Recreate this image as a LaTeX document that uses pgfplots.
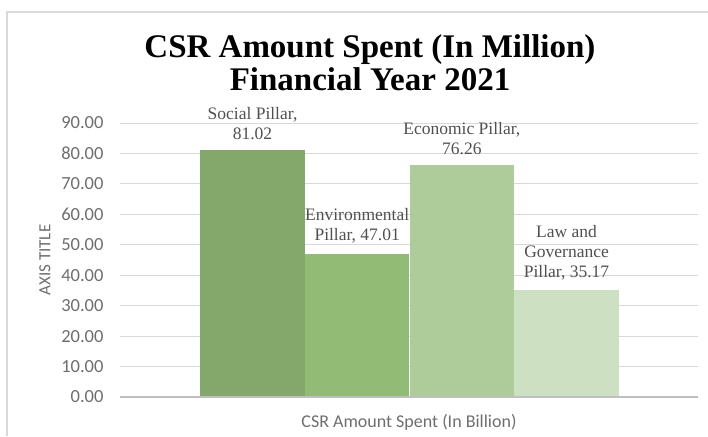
\documentclass[border=0pt]{standalone}
\usepackage{fontspec}
\setmainfont{Liberation Serif}
\newfontfamily\calib{Carlito}
\usepackage{pgfplots}
\pgfplotsset{compat=1.18}

\definecolor{gSocial}{RGB}{132,167,108}
\definecolor{gEnv}{RGB}{146,187,118}
\definecolor{gEcon}{RGB}{174,203,154}
\definecolor{gLaw}{RGB}{205,224,193}
\definecolor{gridc}{RGB}{217,217,217}
\definecolor{framec}{RGB}{217,217,217}
\definecolor{tickc}{RGB}{110,110,110}
\definecolor{lblc}{RGB}{80,80,80}
\definecolor{basec}{RGB}{191,191,191}

\begin{document}
\begin{tikzpicture}[x=1pt,y=1pt]
\begin{axis}[
  name=ax, anchor=south west,
  scale only axis, width=578pt, height=274pt,
  xmin=-1.266, xmax=4.256, ymin=0, ymax=90,
  ytick={0,10,...,90}, xtick=\empty,
  axis line style={draw=none},
  major tick length=0pt,
  ymajorgrids, grid style={gridc, line width=0.9pt},
  yticklabel style={font=\calib\fontsize{18.5}{18.5}\selectfont, text=tickc, xshift=-13pt},
  /pgf/number format/.cd, fixed, fixed zerofill, precision=2, assume math mode=true,
  /pgfplots/.cd,
  ylabel={AXIS TITLE},
  ylabel style={at={(axis description cs:-0.1298,0.5)}, anchor=center,
    font=\calib\fontsize{17}{17}\selectfont, text=tickc},
  xlabel={CSR Amount Spent (In Billion)},
  xlabel style={at={(axis description cs:0.5,-0.0912)}, anchor=center,
    font=\calib\fontsize{18}{18}\selectfont, text=tickc},
  ybar, bar width=104.5pt, bar shift=0pt,
  every node near coord/.append style={align=center, anchor=south, inner sep=0pt,
    yshift=10pt, font=\fontsize{17.5}{20}\selectfont, text=lblc},
]
\addplot[fill=gSocial, draw=none, nodes near coords={Social Pillar,\\81.02}]
  coordinates {(0,81.02)};
\addplot[fill=gEnv, draw=none, nodes near coords={Environmental\\Pillar, 47.01}]
  coordinates {(1,47.01)};
\addplot[fill=gEcon, draw=none, nodes near coords={Economic Pillar,\\76.26}]
  coordinates {(2,76.26)};
\addplot[fill=gLaw, draw=none, nodes near coords={Law and\\Governance\\Pillar, 35.17}]
  coordinates {(3,35.17)};
\draw[basec, line width=1.5pt] (rel axis cs:0,0) -- (rel axis cs:1,0);
\end{axis}
% page extent around the plot box (plot box lower left is the origin)
\pgfresetboundingbox
\useasboundingbox (-120,-39) rectangle (588,397);
% chart frame
\draw[framec, line width=1.2pt] (-113,-39) -- (-113,385) -- (588,385);
% title
\node[align=center, font=\bfseries\fontsize{33}{33}\selectfont, text=black]
  at (250,334) {CSR Amount Spent (In Million)\\Financial Year 2021};
\end{tikzpicture}
\end{document}
